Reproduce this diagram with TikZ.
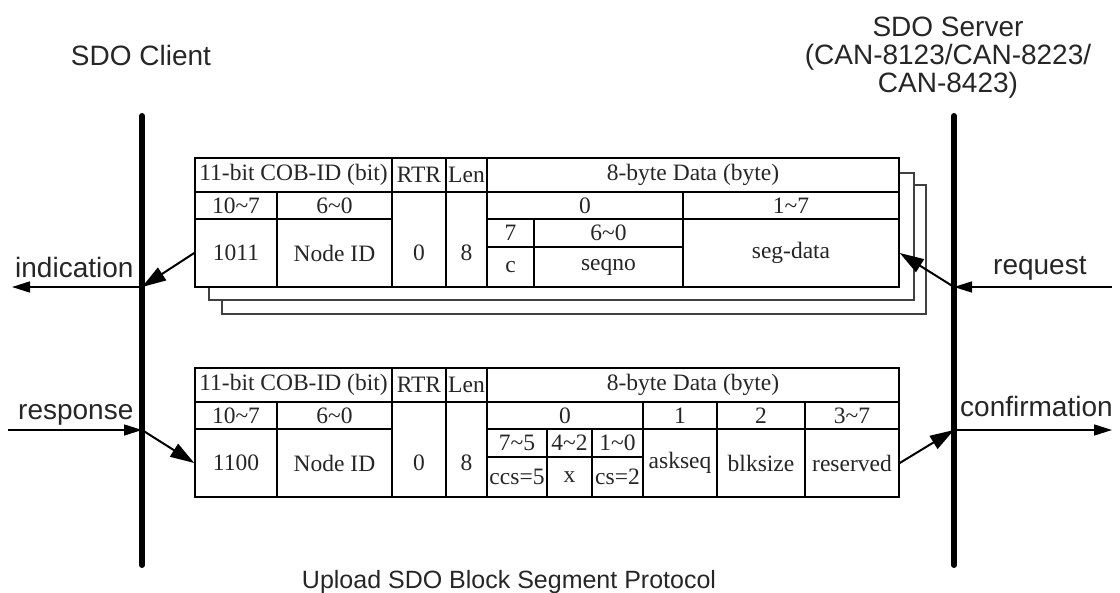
\documentclass[tikz,border=0pt]{standalone}
\usepackage{fontspec}
\setmainfont{Liberation Serif}
\setsansfont{Liberation Sans}
\usetikzlibrary{arrows.meta}

\tikzset{
  cellbox/.style={draw=black, fill=white, line width=1.5pt, inner sep=0pt,
    font=\fontsize{23.5}{23.5}\selectfont, text=black!85},
  celltext/.style={inner sep=0pt, font=\fontsize{23.5}{23.5}\selectfont, text=black!85},
  stackbox/.style={draw=black!75, fill=white, line width=1.4pt, inner sep=0pt},
  lifeline/.style={line width=6pt, line cap=round, draw=black},
  lbl/.style={inner sep=0pt, font=\sffamily\fontsize{28}{28}\selectfont, text=black!85},
  harrow/.style={line width=1.5pt, -{Triangle[length=18pt,width=11pt]}},
  darrow/.style={line width=2pt, -{Triangle[length=24pt,width=15pt]}}
}

% name, x1, y1, x2, y2, text
\newcommand{\mycell}[6]{%
  \pgfmathsetmacro\cw{#4-#2}\pgfmathsetmacro\ch{#5-#3}%
  \node[cellbox, minimum width=\cw pt, minimum height=\ch pt] (#1) at ({(#2+#4)/2},{(#3+#5)/2}) {#6};}

\begin{document}
\begin{tikzpicture}[x=1pt,y=-1pt]
\useasboundingbox (0,0) rectangle (1120,593);

% life lines
\coordinate (cTop) at (142,116);
\coordinate (cBot) at (142,565);
\coordinate (sTop) at (954,116);
\coordinate (sBot) at (954,565);
\draw[lifeline] (cTop) -- (cBot);
\draw[lifeline] (sTop) -- (sBot);

% titles
\node[lbl, anchor=base] (client) at (141,66) {SDO Client};
\node[lbl, anchor=north, align=center] (server) at (948,17) {SDO Server\\(CAN-8123/CAN-8223/\\CAN-8423)};
\node[lbl, anchor=base, font=\sffamily\fontsize{25}{25}\selectfont] (title) at (509,588) {Upload SDO Block Segment Protocol};

% ---------------- top frame (stacked) ----------------
\node[stackbox, minimum width=704pt, minimum height=129pt] (copyB) at (574,249.5) {};
\node[stackbox, minimum width=705pt, minimum height=127pt] (copyA) at (561.5,236.5) {};

\mycell{cobA}{195}{158}{392}{192}{11-bit COB-ID (bit)}
\mycell{rtrA}{392}{158}{446}{192}{RTR}
\mycell{lenA}{446}{158}{487}{192}{Len}
\mycell{dataA}{487}{158}{899}{192}{8-byte Data (byte)}
\mycell{hiA}{195}{192}{277}{219}{10\char`~7}
\mycell{loA}{277}{192}{392}{219}{6\char`~0}
\mycell{rtrvA}{392}{192}{446}{287}{}
\mycell{lenvA}{446}{192}{487}{287}{}
\mycell{bzA}{487}{192}{683}{219}{0}
\mycell{brA}{683}{192}{899}{219}{1\char`~7}
\mycell{fcA}{195}{219}{277}{287}{1011}
\mycell{nidA}{277}{219}{392}{287}{Node ID}
\mycell{b7A}{487}{219}{534}{247}{7}
\mycell{b60A}{534}{219}{683}{247}{6\char`~0}
\mycell{cA}{487}{247}{534}{287}{c}
\mycell{seqA}{534}{247}{683}{287}{seqno}
\mycell{segA}{683}{219}{899}{287}{seg-data}
\node[celltext] (rtrtA) at (rtrvA |- fcA) {0};
\node[celltext] (lentA) at (lenvA |- fcA) {8};

% ---------------- bottom frame ----------------
\mycell{cobB}{195}{368}{392}{402}{11-bit COB-ID (bit)}
\mycell{rtrB}{392}{368}{446}{402}{RTR}
\mycell{lenB}{446}{368}{487}{402}{Len}
\mycell{dataB}{487}{368}{899}{402}{8-byte Data (byte)}
\mycell{hiB}{195}{402}{277}{429}{10\char`~7}
\mycell{loB}{277}{402}{392}{429}{6\char`~0}
\mycell{rtrvB}{392}{402}{446}{497}{}
\mycell{lenvB}{446}{402}{487}{497}{}
\mycell{bzB}{487}{402}{643}{429}{0}
\mycell{boB}{643}{402}{717}{429}{1}
\mycell{btB}{717}{402}{805}{429}{2}
\mycell{brB}{805}{402}{899}{429}{3\char`~7}
\mycell{fcB}{195}{429}{277}{497}{1100}
\mycell{nidB}{277}{429}{392}{497}{Node ID}
\mycell{b75B}{487}{429}{547}{457}{7\char`~5}
\mycell{b42B}{547}{429}{592}{457}{4\char`~2}
\mycell{b10B}{592}{429}{643}{457}{1\char`~0}
\mycell{ccsB}{487}{457}{547}{497}{ccs=5}
\mycell{xB}{547}{457}{592}{497}{x}
\mycell{csB}{592}{457}{643}{497}{cs=2}
\mycell{askB}{643}{429}{717}{497}{askseq}
\mycell{blkB}{717}{429}{805}{497}{blksize}
\mycell{resB}{805}{429}{899}{497}{reserved}
\node[celltext] (rtrtB) at (rtrvB |- fcB) {0};
\node[celltext] (lentB) at (lenvB |- fcB) {8};

% ---------------- arrows ----------------
\coordinate (cInd) at (142,287);
\coordinate (indEnd) at (12,287);
\coordinate (cResp) at (142,430);
\coordinate (respStart) at (8,430);
\coordinate (sReq) at (954,287);
\coordinate (reqStart) at (1112,287);
\coordinate (sConf) at (954,430);
\coordinate (confEnd) at (1112,430);

\draw[darrow] (fcA.west) -- (cInd);
\draw[harrow] (cInd) -- (indEnd);
\draw[harrow] (respStart) -- (cResp);
\draw[darrow] (cResp) -- (fcB.west);
\draw[harrow] (reqStart) -- (sReq);
\draw[darrow] (sReq) -- (segA.east);
\draw[darrow] (resB.east) -- (sConf);
\draw[harrow] (sConf) -- (confEnd);

\node[lbl, anchor=base west] (indl) at (15,278) {indication};
\node[lbl, anchor=base west] (respl) at (18,420) {response};
\node[lbl, anchor=base west] (reql) at (993,275) {request};
\node[lbl, anchor=base west] (confl) at (960,417) {confirmation};
\end{tikzpicture}
\end{document}
